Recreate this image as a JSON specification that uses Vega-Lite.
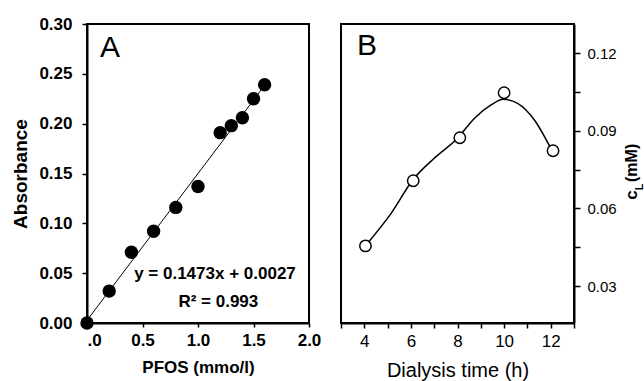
{
  "$schema": "https://vega.github.io/schema/vega-lite/v6.json",
  "background": "white",
  "padding": {"left": 10, "top": 14, "right": 0, "bottom": 0},
  "spacing": 32,
  "bounds": "flush",
  "config": {
    "view": {"stroke": "black", "strokeWidth": 2},
    "axis": {
      "grid": false,
      "domainColor": "black",
      "domainWidth": 2,
      "tickColor": "black",
      "tickWidth": 1.5,
      "labelColor": "black",
      "titleColor": "black",
      "labelFont": "Liberation Sans",
      "titleFont": "Liberation Sans",
      "labelOverlap": false
    },
    "text": {"font": "Liberation Sans", "color": "black"}
  },
  "hconcat": [
    {
      "width": 222,
      "height": 299,
      "layer": [
        {
          "data": {"values": [{"x": 0, "y": 0.0027}, {"x": 1.62, "y": 0.2413}]},
          "mark": {"type": "line", "color": "black", "strokeWidth": 1},
          "encoding": {
            "x": {
              "field": "x", "type": "quantitative",
              "scale": {"domain": [0, 2], "nice": false, "zero": false},
              "axis": {
                "values": [0, 0.5, 1, 1.5, 2],
                "tickCount": 20,
                "labelExpr": "datum.value == 0 ? '.0' : format(datum.value, '.1f')",
                "labelAlign": {"condition": {"test": "datum.value == 0", "value": "left"}, "value": "center"},
                "labelFontSize": 17, "labelFontWeight": "bold",
                "tickSize": 4, "labelPadding": 5,
                "title": "PFOS (mmo/l)", "titleFontSize": 17, "titleFontWeight": "bold", "titlePadding": 11
              }
            },
            "y": {
              "field": "y", "type": "quantitative",
              "scale": {"domain": [0, 0.3], "nice": false, "zero": false},
              "axis": {
                "values": [0, 0.05, 0.1, 0.15, 0.2, 0.25, 0.3],
                "tickCount": 20,
                "format": ".2f",
                "labelFontSize": 17, "labelFontWeight": "bold",
                "tickSize": 5, "labelPadding": 10,
                "title": "Absorbance", "titleFontSize": 19, "titleFontWeight": "bold", "titlePadding": 8
              }
            }
          }
        },
        {
          "data": {"values": [
            {"x": 0.0, "y": 0.0},
            {"x": 0.2, "y": 0.032},
            {"x": 0.4, "y": 0.071},
            {"x": 0.6, "y": 0.092},
            {"x": 0.8, "y": 0.116},
            {"x": 1.0, "y": 0.137},
            {"x": 1.2, "y": 0.191},
            {"x": 1.3, "y": 0.198},
            {"x": 1.4, "y": 0.206},
            {"x": 1.5, "y": 0.225},
            {"x": 1.6, "y": 0.239}
          ]},
          "mark": {"type": "circle", "color": "black", "opacity": 1, "size": 180},
          "encoding": {
            "x": {"field": "x", "type": "quantitative"},
            "y": {"field": "y", "type": "quantitative"}
          }
        },
        {
          "data": {"values": [{}]},
          "mark": {"type": "text", "fontSize": 30, "fontWeight": "normal", "align": "center", "baseline": "alphabetic"},
          "encoding": {"x": {"datum": 0.207}, "y": {"datum": 0.2664}, "text": {"value": "A"}}
        },
        {
          "data": {"values": [{}]},
          "mark": {"type": "text", "fontSize": 17, "fontWeight": "bold", "align": "center", "baseline": "alphabetic"},
          "encoding": {"x": {"datum": 1.153}, "y": {"datum": 0.0446}, "text": {"value": "y = 0.1473x + 0.0027"}}
        },
        {
          "data": {"values": [{}]},
          "mark": {"type": "text", "fontSize": 17, "fontWeight": "bold", "align": "center", "baseline": "alphabetic"},
          "encoding": {"x": {"datum": 1.183}, "y": {"datum": 0.016}, "text": {"value": "R² = 0.993"}}
        }
      ]
    },
    {
      "width": 233,
      "height": 299,
      "layer": [
        {
          "data": {"values": [
            {"t": 4.05, "c": 0.0456},
            {"t": 5.15, "c": 0.0581},
            {"t": 6.08, "c": 0.071},
            {"t": 7.0, "c": 0.0794},
            {"t": 8.0, "c": 0.0871},
            {"t": 8.72, "c": 0.0948},
            {"t": 9.44, "c": 0.1},
            {"t": 9.97, "c": 0.1022},
            {"t": 10.58, "c": 0.1006},
            {"t": 11.3, "c": 0.0942},
            {"t": 12.05, "c": 0.0824}
          ]},
          "mark": {"type": "line", "color": "black", "strokeWidth": 1.5, "interpolate": "monotone"},
          "encoding": {
            "x": {
              "field": "t", "type": "quantitative",
              "scale": {"domain": [3, 13], "nice": false, "zero": false},
              "axis": {
                "values": [3, 4, 5, 6, 7, 8, 9, 10, 11, 12, 13],
                "tickCount": 20,
                "labelExpr": "(datum.value == 4 || datum.value == 6 || datum.value == 8 || datum.value == 10 || datum.value == 12) ? '' + datum.value : ''",
                "labelOverlap": false,
                "labelFlush": false,
                "labelFontSize": 17, "labelFontWeight": "normal",
                "tickSize": 5, "labelPadding": 5,
                "title": "Dialysis time (h)", "titleFontSize": 20, "titleFontWeight": "normal", "titlePadding": 11
              }
            },
            "y": {
              "field": "c", "type": "quantitative",
              "scale": {"domain": [0.0157, 0.1313], "nice": false, "zero": false},
              "axis": {
                "orient": "right",
                "values": [0.03, 0.045, 0.06, 0.075, 0.09, 0.105, 0.12],
                "tickCount": 20,
                "labelExpr": "round(datum.value * 1000) % 30 == 0 ? format(datum.value, '.2f') : ''",
                "labelOverlap": false,
                "labelFontSize": 15, "labelFontWeight": "normal",
                "tickSize": 6, "labelPadding": 7,
                "title": null
              }
            }
          }
        },
        {
          "data": {"values": [
            {"t": 4.05, "c": 0.0455},
            {"t": 6.1, "c": 0.0707},
            {"t": 8.1, "c": 0.0873},
            {"t": 10.0, "c": 0.1047},
            {"t": 12.1, "c": 0.0823}
          ]},
          "mark": {"type": "point", "shape": "circle", "filled": true, "fill": "white", "stroke": "black", "strokeWidth": 1.5, "size": 130, "opacity": 1},
          "encoding": {
            "x": {"field": "t", "type": "quantitative"},
            "y": {"field": "c", "type": "quantitative"}
          }
        },
        {
          "data": {"values": [{}]},
          "mark": {"type": "text", "fontSize": 30, "fontWeight": "normal", "align": "center", "baseline": "alphabetic"},
          "encoding": {"x": {"datum": 4.12}, "y": {"datum": 0.1193}, "text": {"value": "B"}}
        },
        {
          "data": {"values": [{}]},
          "mark": {"type": "text", "fontSize": 16, "fontWeight": "bold", "align": "center", "baseline": "alphabetic", "angle": 270},
          "encoding": {"x": {"datum": 15.72}, "y": {"datum": 0.0776}, "text": {"value": "(mM)"}}
        },
        {
          "data": {"values": [{}]},
          "mark": {"type": "text", "fontSize": 17, "fontWeight": "bold", "align": "center", "baseline": "alphabetic", "angle": 270},
          "encoding": {"x": {"datum": 15.72}, "y": {"datum": 0.0652}, "text": {"value": "c"}}
        },
        {
          "data": {"values": [{}]},
          "mark": {"type": "text", "fontSize": 11, "fontWeight": "bold", "align": "center", "baseline": "alphabetic", "angle": 270},
          "encoding": {"x": {"datum": 15.97}, "y": {"datum": 0.0683}, "text": {"value": "L"}}
        }
      ]
    }
  ]
}
